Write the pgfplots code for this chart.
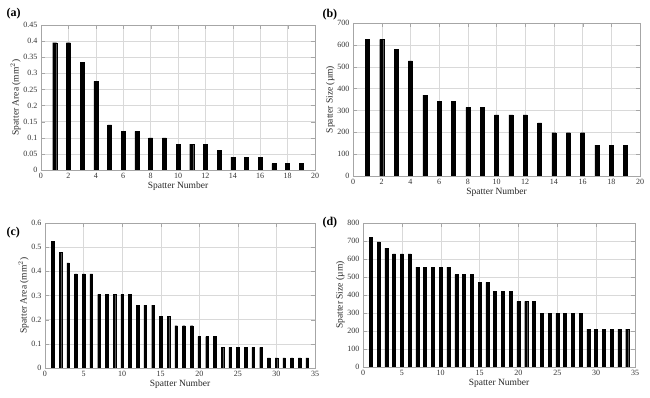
\documentclass[border=0pt]{standalone}
\usepackage{pgfplots}
\pgfplotsset{compat=1.18}
\usepackage{fontspec}
\setmainfont{Liberation Serif}
\pgfplotstableread{
x y
1 0.395
2 0.395
3 0.335
4 0.275
5 0.14
6 0.12
7 0.12
8 0.10
9 0.10
10 0.08
11 0.08
12 0.08
13 0.06
14 0.04
15 0.04
16 0.04
17 0.02
18 0.02
19 0.02
}\dataA
\pgfplotstableread{
x y
1 625
2 625
3 578
4 527
5 370
6 343
7 343
8 314
9 314
10 280
11 280
12 280
13 243
14 198
15 198
16 198
17 141
18 141
19 141
}\dataB
\pgfplotstableread{
x y
1 0.525
2 0.480
3 0.435
4 0.390
5 0.390
6 0.390
7 0.305
8 0.305
9 0.305
10 0.305
11 0.305
12 0.260
13 0.260
14 0.260
15 0.215
16 0.215
17 0.175
18 0.175
19 0.175
20 0.130
21 0.130
22 0.130
23 0.085
24 0.085
25 0.085
26 0.085
27 0.085
28 0.085
29 0.042
30 0.042
31 0.042
32 0.042
33 0.042
34 0.042
}\dataC
\pgfplotstableread{
x y
1 722
2 695
3 660
4 628
5 628
6 628
7 555
8 555
9 555
10 555
11 555
12 513
13 513
14 513
15 470
16 470
17 420
18 420
19 420
20 365
21 365
22 365
23 297
24 297
25 297
26 297
27 297
28 297
29 210
30 210
31 210
32 210
33 210
34 210
}\dataD
\pgfplotsset{
  panel/.style={
    scale only axis,
    anchor=south west,
    axis line style={gray!70},
    grid=major,
    grid style={gray!30, line width=0.4pt},
    tick style={gray!70},
    tick align=inside,
    xtick pos=both, ytick pos=both,
    /pgf/number format/assume math mode=true,
    tick label style={font=\fontsize{8}{9}\selectfont, text=black!80},
    label style={font=\fontsize{9.5}{10}\selectfont, text=black!85},
    xlabel={Spatter Number},
    xlabel style={yshift=4pt},
    ylabel style={yshift=-4pt},
    ymin=0,
    scaled y ticks=false,
    yticklabel style={/pgf/number format/fixed},
  }
}
\begin{document}
\begin{tikzpicture}
\path (0pt,0pt) rectangle (650pt,398pt);
% (a)
\begin{axis}[panel, at={(41pt,228pt)}, width=274pt, height=145pt,
  xmin=0, xmax=20, ymax=0.45, xtick={0,2,...,20},
  ytick={0,0.05,...,0.46},
  yticklabels={0,0.05,0.1,0.15,0.2,0.25,0.3,0.35,0.4,0.45},
  ylabel={Spatter Area (mm$^2$)}]
\addplot[ybar, bar width=4pt, fill=black, draw=black] table[x=x,y=y] {\dataA};
\end{axis}
\node[font=\bfseries\fontsize{12}{12}\selectfont, anchor=west] at (3pt,384pt) {(a)};
% (b)
\begin{axis}[panel, at={(353pt,222pt)}, width=287pt, height=153pt,
  xmin=0, xmax=20, ymax=700, xtick={0,2,...,20}, ytick={0,100,...,700},
  ylabel={Spatter Size (\textmu m)}]
\addplot[ybar, bar width=4pt, fill=black, draw=black] table[x=x,y=y] {\dataB};
\end{axis}
\node[font=\bfseries\fontsize{12}{12}\selectfont, anchor=west] at (319pt,383pt) {(b)};
% (c)
\begin{axis}[panel, at={(45pt,30pt)}, width=270pt, height=145pt,
  xmin=0, xmax=35, ymax=0.6, xtick={0,5,...,35}, ytick={0,0.1,...,0.61},
  yticklabels={0,0.1,0.2,0.3,0.4,0.5,0.6},
  ylabel={Spatter Area (mm$^2$)}]
\addplot[ybar, bar width=2.6pt, fill=black, draw=black] table[x=x,y=y] {\dataC};
\end{axis}
\node[font=\bfseries\fontsize{12}{12}\selectfont, anchor=west] at (3pt,165pt) {(c)};
% (d)
\begin{axis}[panel, at={(363pt,31pt)}, width=272pt, height=144pt,
  xmin=0, xmax=35, ymax=800, xtick={0,5,...,35}, ytick={0,100,...,800},
  ylabel={Spatter Size (\textmu m)}]
\addplot[ybar, bar width=3pt, fill=black, draw=black] table[x=x,y=y] {\dataD};
\end{axis}
\node[font=\bfseries\fontsize{12}{12}\selectfont, anchor=west] at (319pt,175pt) {(d)};
\end{tikzpicture}
\end{document}
